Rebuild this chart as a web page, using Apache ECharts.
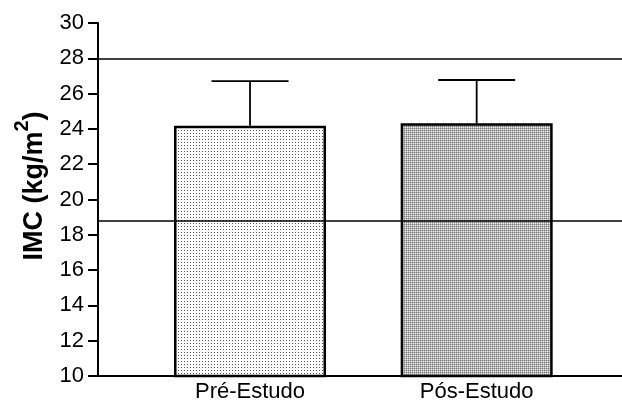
<!DOCTYPE html>
<html>
<head>
<meta charset="utf-8">
<script src="https://cdn.jsdelivr.net/npm/echarts@6/dist/echarts.min.js"></script>
<style>
html,body{margin:0;padding:0;background:#fff;}
#c{width:622px;height:404px;}
</style>
</head>
<body>
<div id="c"></div>
<script>
// ---- data ----
var categories = ['Pré-Estudo', 'Pós-Estudo'];
var means = [24.18, 24.32];
var upperErr = [26.71, 26.77];
var refLines = [28, 18.8];
var yTicks = [10, 12, 14, 16, 18, 20, 22, 24, 26, 28, 30];

// ---- fill patterns ----
function tile(size, pixels) {
  var cv = document.createElement('canvas');
  cv.width = size; cv.height = size;
  var ctx = cv.getContext('2d');
  for (var y = 0; y < size; y++) for (var x = 0; x < size; x++) {
    ctx.fillStyle = pixels[y][x];
    ctx.fillRect(x, y, 1, 1);
  }
  return cv;
}
var preTile = tile(3, [['#fff','#fff','#fff'],['#fff','#555','#fff'],['#fff','#fff','#fff']]);
var postTile = tile(2, [['#7a7a7a','#b4b4b4'],['#b4b4b4','#ececec']]);
var fills = [
  {image: preTile, repeat: 'repeat'},
  {image: postTile, repeat: 'repeat'}
];

var FONT = "'Liberation Sans', Arial, sans-serif";
var chart = echarts.init(document.getElementById('c'), null, {renderer: 'canvas'});

var barData = means.map(function (v, i) {
  return {value: v, itemStyle: {color: fills[i]}};
});
var errData = means.map(function (v, i) { return [i, v, upperErr[i]]; });

chart.setOption({
  animation: false,
  backgroundColor: '#fff',
  grid: [
    {left: 98, right: 0, top: 23, bottom: 28},
    {left: 136.7, width: 453.3, top: 23, bottom: 28}
  ],
  xAxis: [
    {gridIndex: 0, type: 'value', min: 0, max: 1,
     axisLine: {show: true, onZero: false, lineStyle: {color: '#000', width: 2}},
     axisTick: {show: false}, axisLabel: {show: false}, splitLine: {show: false}},
    {gridIndex: 1, type: 'category', data: categories,
     axisLine: {show: false}, axisTick: {show: false},
     axisLabel: {color: '#000', fontSize: 22, fontFamily: FONT, margin: 5}}
  ],
  yAxis: [
    {gridIndex: 0, type: 'value', min: yTicks[0], max: yTicks[yTicks.length - 1], interval: 2,
     axisLine: {show: true, lineStyle: {color: '#000', width: 2}},
     axisTick: {show: true, length: 10, lineStyle: {color: '#000', width: 2}},
     axisLabel: {color: '#000', fontSize: 22, fontFamily: FONT, margin: 14},
     splitLine: {show: false},
     name: '{a|IMC (kg/m}{b|2}{a|)}',
     nameLocation: 'middle',
     nameGap: 50,
     nameRotate: 90,
     nameTextStyle: {
       padding: [0, 0, 0, 27],
       rich: {
         a: {fontSize: 27, fontWeight: 'bold', fontFamily: FONT, color: '#000', lineHeight: 36, verticalAlign: 'bottom'},
         b: {fontSize: 20, fontWeight: 'bold', fontFamily: FONT, color: '#000', lineHeight: 36, verticalAlign: 'top'}
       }
     }},
    {gridIndex: 1, type: 'value', min: yTicks[0], max: yTicks[yTicks.length - 1], show: false}
  ],
  series: [
    {type: 'line', xAxisIndex: 0, yAxisIndex: 0, data: [], silent: true,
     markLine: {silent: true, symbol: 'none', label: {show: false},
       lineStyle: {color: '#000', width: 1.6, type: 'solid'},
       data: refLines.map(function (v) { return {yAxis: v}; })}},
    {type: 'bar', xAxisIndex: 1, yAxisIndex: 1, data: barData, barWidth: 152,
     itemStyle: {borderColor: '#000', borderWidth: 2.5}, z: 1},
    {type: 'custom', xAxisIndex: 1, yAxisIndex: 1, data: errData, z: 3,
     renderItem: function (params, api) {
       var top = api.coord([api.value(0), api.value(2)]);
       var base = api.coord([api.value(0), api.value(1)]);
       var half = 38.5;
       var st = {stroke: '#000', lineWidth: 1.8};
       return {type: 'group', children: [
         {type: 'line', shape: {x1: top[0], y1: top[1], x2: base[0], y2: base[1]}, style: st},
         {type: 'line', shape: {x1: top[0] - half, y1: top[1], x2: top[0] + half, y2: top[1]}, style: st}
       ]};
     }}
  ]
});
</script>
</body>
</html>
